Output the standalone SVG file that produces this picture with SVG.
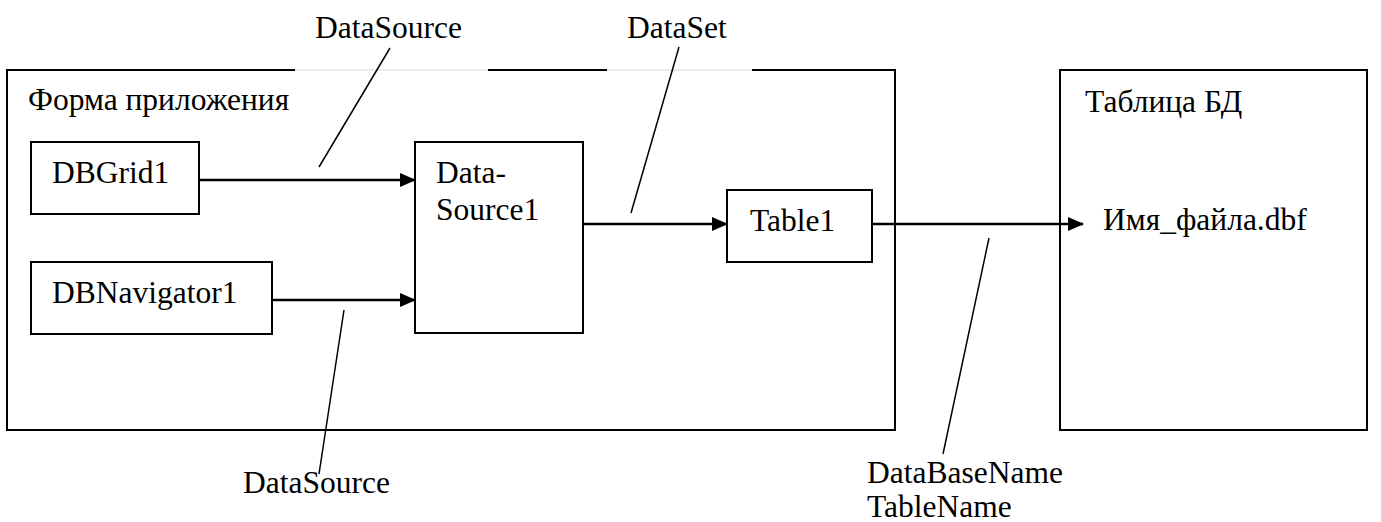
<svg xmlns="http://www.w3.org/2000/svg" width="1381" height="522" viewBox="0 0 1381 522" font-family="Liberation Serif, DejaVu Serif, serif" font-size="31.5">
<style>
text{font-family:'Liberation Serif','DejaVu Serif',serif;font-size:31.5px;fill:#000}
.box{fill:none;stroke:#000;stroke-width:2}
.arr{fill:none;stroke:#000;stroke-width:2.5}
.lead{fill:none;stroke:#000;stroke-width:1.5}
.gap{fill:none;stroke:#d9d9d9;stroke-width:1}
</style>
<defs>
<marker id="ah" markerWidth="16" markerHeight="14" refX="15" refY="7" orient="auto" markerUnits="userSpaceOnUse">
<path d="M0,0 L16,7 L0,14 Z" fill="#000"/>
</marker>
</defs>
<rect width="1381" height="522" fill="#fff"/>
<g id="form">
<path class="box" d="M295,70 H7 V430 H895 V70 H752 M607,70 H488"/>
<path class="gap" d="M295,70 H488 M607,70 H752"/>
<text x="28" y="110">Форма приложения</text>
</g>
<g id="dbgrid1">
<rect class="box" x="31" y="142" width="168" height="72"/>
<text x="52" y="183">DBGrid1</text>
</g>
<g id="dbnavigator1">
<rect class="box" x="31" y="262" width="241" height="72"/>
<text x="52" y="303">DBNavigator1</text>
</g>
<g id="datasource1">
<rect class="box" x="415" y="142" width="168" height="191"/>
<text x="436" y="183">Data-</text>
<text x="436" y="220">Source1</text>
</g>
<g id="table1">
<rect class="box" x="727" y="190" width="145" height="72"/>
<text x="750" y="231">Table1</text>
</g>
<g id="dbtable">
<rect class="box" x="1060" y="70" width="307" height="360"/>
<text x="1085" y="112">Таблица БД</text>
<text x="1103" y="230">Имя_файла.dbf</text>
</g>
<g id="connectors">
<line class="arr" x1="199" y1="180" x2="415" y2="180" marker-end="url(#ah)"/>
<line class="arr" x1="272" y1="300" x2="415" y2="300" marker-end="url(#ah)"/>
<line class="arr" x1="583" y1="224" x2="727" y2="224" marker-end="url(#ah)"/>
<line class="arr" x1="872" y1="224" x2="1083" y2="224" marker-end="url(#ah)"/>
<line class="lead" x1="390" y1="48" x2="319" y2="167"/>
<line class="lead" x1="679" y1="47" x2="631" y2="213"/>
<line class="lead" x1="344" y1="310" x2="319" y2="474"/>
<line class="lead" x1="989" y1="238" x2="943" y2="454"/>
</g>
<g id="labels">
<text x="315" y="38">DataSource</text>
<text x="627" y="38">DataSet</text>
<text x="243" y="493">DataSource</text>
<text x="867" y="483">DataBaseName</text>
<text x="867" y="517">TableName</text>
</g>
</svg>
